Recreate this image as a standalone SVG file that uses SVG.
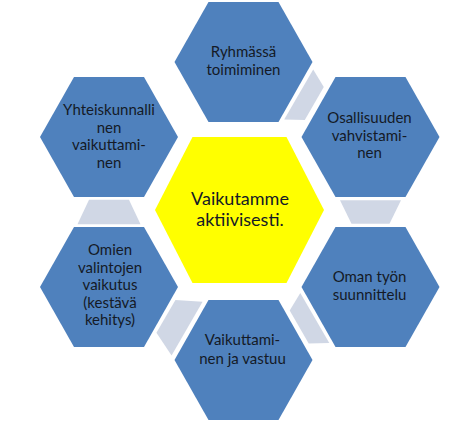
<svg xmlns="http://www.w3.org/2000/svg" width="475" height="424" viewBox="0 0 475 424">
  <defs>
    <style>
      .hex { fill: #4F81BD; }
      .core { fill: #FFFF00; }
      .conn { fill: #D0D7E5; }
      text { font-family: Lato, "Liberation Sans", sans-serif; fill: #141A26; text-anchor: middle; }
      .t { font-size: 15px; }
      .c { font-size: 18px; }
    </style>
    <polygon id="hexShape" points="-69,0 -35,-60 35,-60 69,0 35,60 -35,60"/>
  </defs>
  <rect width="475" height="424" fill="#FFFFFF"/>

  <g id="connectors">
    <polygon class="conn" transform="translate(306.5,99) rotate(-60)" points="-29,-9 29,-9 19,9 -19,9"/>
    <polygon class="conn" transform="translate(370.5,212) rotate(0)" points="-30.5,-11.7 30.5,-11.7 19,11.7 -19,11.7"/>
    <polygon class="conn" transform="translate(307,322.5) rotate(60)" points="-29,-9 29,-9 19,9 -19,9"/>
    <polygon class="conn" transform="translate(176.5,322.5) rotate(120)" points="-31,-12.2 31,-12.2 19,12.2 -19,12.2"/>
    <polygon class="conn" transform="translate(109,212) rotate(180)" points="-31.5,-12.2 31.5,-12.2 20,12.2 -20,12.2"/>
  </g>

  <g id="center">
    <polygon class="core" points="155,210 192.5,137 286.5,137 324,210 286.5,283 192.5,283"/>
    <text class="c" x="240" y="205">Vaikutamme</text>
    <text class="c" x="240" y="226">aktiivisesti.</text>
  </g>

  <g id="ryhmassa">
    <use href="#hexShape" class="hex" transform="translate(243.5,62)"/>
    <text class="t" x="243.5" y="57">Ryhmässä</text>
    <text class="t" x="243.5" y="75">toimiminen</text>
  </g>

  <g id="osallisuus">
    <use href="#hexShape" class="hex" transform="translate(370.5,137)"/>
    <text class="t" x="369.5" y="123">Osallisuuden</text>
    <text class="t" x="369.5" y="141">vahvistami-</text>
    <text class="t" x="369.5" y="158">nen</text>
  </g>

  <g id="oman-tyon">
    <use href="#hexShape" class="hex" transform="translate(370.5,287)"/>
    <text class="t" x="369.5" y="282">Oman työn</text>
    <text class="t" x="369.5" y="299.5">suunnittelu</text>
  </g>

  <g id="vaikuttaminen">
    <use href="#hexShape" class="hex" transform="translate(243.5,360)"/>
    <text class="t" x="242.5" y="345">Vaikuttami-</text>
    <text class="t" x="242.5" y="363.5">nen ja vastuu</text>
  </g>

  <g id="omien-valintojen">
    <use href="#hexShape" class="hex" transform="translate(109,287)"/>
    <text class="t" x="110" y="255">Omien</text>
    <text class="t" x="110" y="272.5">valintojen</text>
    <text class="t" x="110" y="290">vaikutus</text>
    <text class="t" x="110" y="307.5">(kestävä</text>
    <text class="t" x="110" y="325">kehitys)</text>
  </g>

  <g id="yhteiskunnallinen">
    <use href="#hexShape" class="hex" transform="translate(109,137)"/>
    <text class="t" x="109" y="115">Yhteiskunnalli</text>
    <text class="t" x="109" y="132.5">nen</text>
    <text class="t" x="109" y="150">vaikuttami-</text>
    <text class="t" x="109" y="167.5">nen</text>
  </g>
</svg>
